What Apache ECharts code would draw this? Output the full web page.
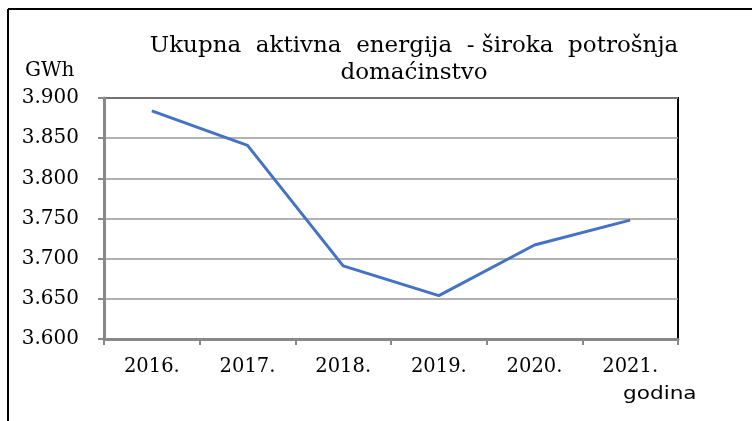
<!DOCTYPE html>
<html>
<head>
<meta charset="utf-8">
<script src="https://cdn.jsdelivr.net/npm/echarts@6/dist/echarts.min.js"></script>
<style>
  html, body { margin: 0; padding: 0; background: #fff; }
  #chart { width: 752px; height: 421px; }
</style>
</head>
<body>
<div id="chart"></div>
<script>
// podaci sa grafika
const godine = ['2016.', '2017.', '2018.', '2019.', '2020.', '2021.'];
const energija = [3.884, 3.841, 3.691, 3.654, 3.717, 3.748];
const yMin = 3.6, yMax = 3.9, yStep = 0.05;

const chart = echarts.init(document.getElementById('chart'));

const serif = '"DejaVu Serif", "Liberation Serif", serif';

const option = {
    animation: false,
    title: {
        text: 'Ukupna  aktivna  energija  - široka  potrošnja\ndomaćinstvo',
        left: 409,
        top: 28,
        textAlign: 'center',
        textStyle: {
            fontFamily: serif,
            fontWeight: 'normal',
            fontSize: 23,
            lineHeight: 27,
            color: '#000'
        }
    },
    grid: {
        left: 104,
        right: 74,
        top: 98,
        bottom: 82,
        show: true,
        borderColor: '#000',
        borderWidth: 2
    },
    xAxis: {
        type: 'category',
        data: godine,
        boundaryGap: true,
        axisLine: { lineStyle: { color: '#888', width: 3 } },
        axisTick: { show: true, length: 6, lineStyle: { color: '#888', width: 2 } },
        axisLabel: {
            margin: 18,
            fontFamily: serif,
            fontSize: 19.5,
            color: '#000',
            showMinLabel: true
        }
    },
    yAxis: {
        type: 'value',
        min: yMin,
        max: yMax,
        interval: yStep,
        axisLine: { show: true, lineStyle: { color: '#888', width: 3 } },
        axisTick: { show: true, length: 6, lineStyle: { color: '#888', width: 2 } },
        splitLine: { lineStyle: { color: '#999', width: 1.5 } },
        axisLabel: {
            margin: 25,
            fontFamily: serif,
            fontSize: 20,
            color: '#000',
            showMinLabel: true,
            formatter: v => v.toFixed(3)
        }
    },
    series: [{
        type: 'line',
        data: energija,
        symbol: 'none',
        lineStyle: { color: '#4472C4', width: 3 }
    }],
    graphic: [
        { type: 'line', shape: { x1: 8, y1: 9, x2: 752, y2: 9 }, style: { stroke: '#000', lineWidth: 2 } },
        { type: 'line', shape: { x1: 8, y1: 9, x2: 8, y2: 421 }, style: { stroke: '#000', lineWidth: 2 } },
        {
            type: 'text', x: 25, y: 61,
            style: { text: 'GWh', fontFamily: serif, fontSize: 20, fill: '#000' }
        },
        {
            type: 'text', x: 623, y: 385, scaleX: 1.2,
            style: { text: 'godina', fontFamily: '"DejaVu Sans", sans-serif', fontSize: 18, fill: '#000' }
        }
    ]
};

chart.setOption(option);
</script>
</body>
</html>
